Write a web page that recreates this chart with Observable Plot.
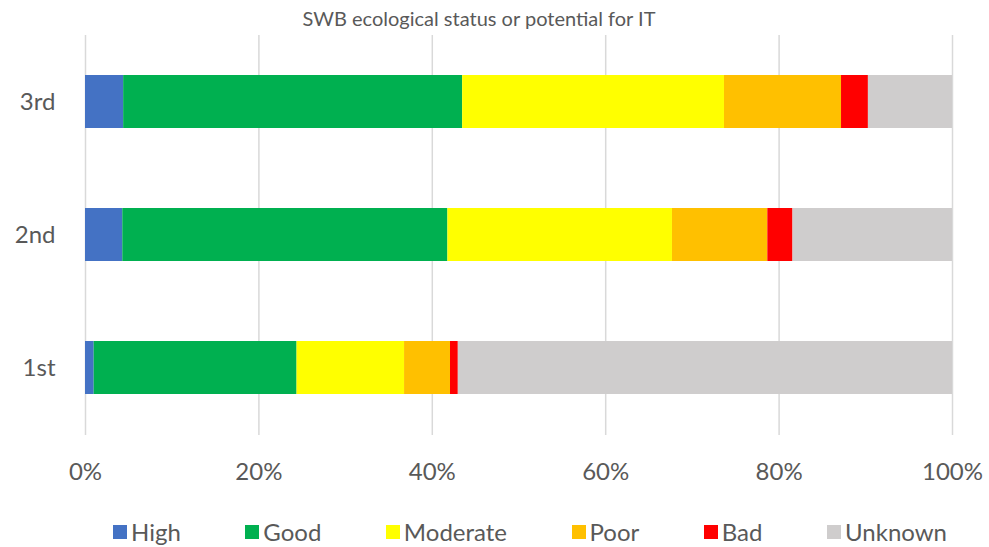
<!DOCTYPE html>
<html>
<head>
<meta charset="utf-8">
<script src="https://cdn.jsdelivr.net/npm/d3@7"></script>
<script src="https://cdn.jsdelivr.net/npm/@observablehq/plot@0.6"></script>
<style>
  html, body { margin: 0; padding: 0; background: #fff; }
  #wrap { position: relative; width: 989px; height: 547px; font-family: Lato, sans-serif; color: #595959; }
  #title { position: absolute; left: 0; top: 6px; width: 958px; text-align: center; font-size: 20px; line-height: 24px; }
  #chart { position: absolute; left: 0; top: 0; }
  #legend { position: absolute; left: 113px; top: 517px; width: 834px; display: flex; justify-content: space-between; font-size: 24px; line-height: 30px; }
  .item { display: flex; align-items: center; }
  .sw { width: 14px; height: 14px; margin-right: 4px; }
</style>
</head>
<body>
<div id="wrap">
  <div id="chart"></div>
  <div id="title">SWB ecological status or potential for IT</div>
  <div id="legend"></div>
</div>
<script>
const categories = ["3rd", "2nd", "1st"];
const statuses = ["High", "Good", "Moderate", "Poor", "Bad", "Unknown"];
const statusColors = ["#4472C4", "#00B050", "#FFFF00", "#FFC000", "#FF0000", "#CFCDCD"];
// percentages per category, in order 3rd, 2nd, 1st
const high     = [4.4, 4.3, 1.0];
const good     = [39.1, 37.5, 23.4];
const moderate = [30.2, 25.9, 12.4];
const poor     = [13.5, 11.0, 5.3];
const bad      = [3.1, 2.9, 0.9];
const unknown  = [9.7, 18.4, 57.0];
const xTicks = [0, 20, 40, 60, 80, 100];

const series = [high, good, moderate, poor, bad, unknown];
const data = [];
categories.forEach((c, i) => {
  statuses.forEach((s, j) => data.push({category: c, status: s, value: series[j][i]}));
});

const chart = Plot.plot({
  width: 989,
  height: 500,
  marginTop: 35,
  marginBottom: 65,
  marginLeft: 85,
  marginRight: 37,
  style: {fontFamily: "Lato, sans-serif", fontSize: "24px", color: "#595959", background: "transparent"},
  x: {domain: [0, 100]},
  y: {domain: categories, paddingInner: 0.6, paddingOuter: 0.3},
  color: {domain: statuses, range: statusColors},
  marks: [
    Plot.gridX(xTicks, {stroke: "#d9d9d9", strokeOpacity: 1, strokeWidth: 1.5}),
    Plot.barX(data, {y: "category", x: "value", fill: "status", order: statuses}),
    Plot.axisX({ticks: xTicks, tickFormat: d => d + "%", tickSize: 0, tickPadding: 27, label: null, fontSize: 24}),
    Plot.axisY({tickSize: 0, tickPadding: 30, label: null, fontSize: 24})
  ]
});
document.getElementById("chart").appendChild(chart);

const legend = document.getElementById("legend");
statuses.forEach((s, i) => {
  const item = document.createElement("div");
  item.className = "item";
  const sw = document.createElement("span");
  sw.className = "sw";
  sw.style.background = statusColors[i];
  const t = document.createElement("span");
  t.textContent = s;
  item.appendChild(sw);
  item.appendChild(t);
  legend.appendChild(item);
});
</script>
</body>
</html>
